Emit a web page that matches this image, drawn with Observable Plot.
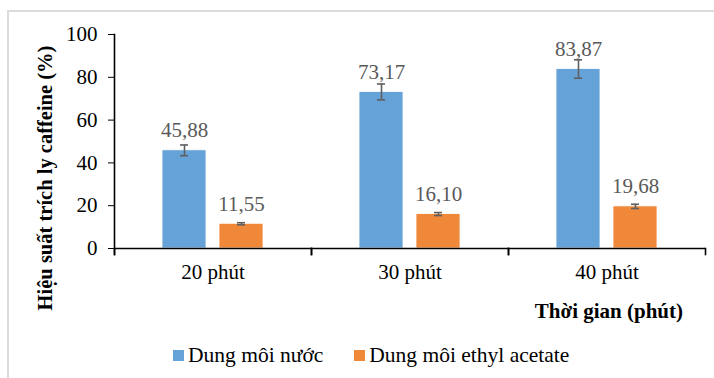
<!DOCTYPE html>
<html>
<head>
<meta charset="utf-8">
<script src="https://cdn.jsdelivr.net/npm/d3@7"></script>
<script src="https://cdn.jsdelivr.net/npm/@observablehq/plot@0.6"></script>
<style>
  html, body { margin: 0; padding: 0; background: #fff; }
  #wrap { position: relative; width: 714px; height: 378px; overflow: hidden; font-family: "Liberation Serif", "Times New Roman", serif; }
  #border { position: absolute; left: 7px; top: 10px; width: 760px; height: 420px; border: 2px solid #dcdcdc; box-sizing: border-box; }
  #chart { position: absolute; left: 0; top: 0; }
  .ytitle { position: absolute; left: 45px; top: 178px; transform: translate(-50%, -50%) rotate(-90deg); white-space: nowrap; font-weight: bold; font-size: 20.5px; color: #000; }
  .xtitle { position: absolute; right: 31px; top: 299px; white-space: nowrap; font-weight: bold; font-size: 21px; color: #000; }
  .legend { position: absolute; top: 343px; left: 173px; display: flex; align-items: center; font-size: 21.5px; color: #000; white-space: nowrap; }
  .legend .item { display: flex; align-items: center; margin-right: 31px; }
  .legend .sw { width: 11px; height: 11px; margin-right: 4px; }
</style>
</head>
<body>
<div id="wrap">
  <div id="border"></div>
  <div id="chart"></div>
  <div class="ytitle" id="ytitle"></div>
  <div class="xtitle" id="xtitle"></div>
  <div class="legend" id="legend"></div>
</div>
<script>
const times = ["20 phút", "30 phút", "40 phút"];
const series = ["Dung môi nước", "Dung môi ethyl acetate"];
const waterValues = [45.88, 73.17, 83.87];
const waterErrors = [2.5, 3.7, 4.3];
const ethylValues = [11.55, 16.10, 19.68];
const ethylErrors = [0.5, 0.7, 1.0];
const yTicks = [0, 20, 40, 60, 80, 100];
const colors = ["#65a2d8", "#f0883a"];
const yTitle = "Hiệu suất trích ly caffeine (%)";
const xTitle = "Thời gian (phút)";

const data = [];
times.forEach((t, i) => {
  data.push({time: t, series: series[0], value: waterValues[i], err: waterErrors[i]});
  data.push({time: t, series: series[1], value: ethylValues[i], err: ethylErrors[i]});
});
const fmt = v => v.toFixed(2).replace(".", ",");

const chart = Plot.plot({
  width: 714,
  height: 335,
  marginLeft: 113,
  marginRight: 9,
  marginTop: 34,
  marginBottom: 87,
  style: {fontFamily: "'Liberation Serif', 'Times New Roman', serif", fontSize: "21px", color: "#000", background: "transparent"},
  fx: {domain: times, padding: 0, label: null, axis: "bottom", tickSize: 0, tickPadding: 16},
  x: {domain: series, paddingInner: 0.228, paddingOuter: 0.842, axis: null},
  y: {domain: [0, 100], ticks: yTicks, tickSize: 6, tickPadding: 11, label: null},
  color: {domain: series, range: colors},
  marks: [
    Plot.barY(data, {fx: "time", x: "series", y: "value", fill: "series", stroke: "#ffffff", strokeWidth: 0.8}),
    Plot.ruleX(data, {fx: "time", x: "series", y1: d => d.value - d.err, y2: d => d.value + d.err, stroke: "#5f5f5f", strokeWidth: 1.6}),
    Plot.tickY(data, {fx: "time", x: "series", y: d => d.value - d.err, stroke: "#5f5f5f", strokeWidth: 1.6, insetLeft: 18, insetRight: 18}),
    Plot.tickY(data, {fx: "time", x: "series", y: d => d.value + d.err, stroke: "#5f5f5f", strokeWidth: 1.6, insetLeft: 18, insetRight: 18}),
    Plot.text(data, {fx: "time", x: "series", y: "value", text: d => fmt(d.value), dy: -20, fill: "#595959", fontSize: 21}),
    Plot.ruleY([0], {stroke: "#000", strokeWidth: 1.6}),
    Plot.frame({anchor: "left", insetTop: 214, insetBottom: -6, stroke: "#000", strokeWidth: 1.6}),
    Plot.frame({anchor: "right", insetTop: 214, insetBottom: -6, stroke: "#000", strokeWidth: 1.6}),
    Plot.frame({anchor: "left", facet: "super", insetBottom: -6, stroke: "#000", strokeWidth: 1.6})
  ]
});
document.getElementById("chart").appendChild(chart);
document.getElementById("ytitle").textContent = yTitle;
document.getElementById("xtitle").textContent = xTitle;
const legend = document.getElementById("legend");
series.forEach((s, i) => {
  const item = document.createElement("div");
  item.className = "item";
  const sw = document.createElement("div");
  sw.className = "sw";
  sw.style.background = colors[i];
  const label = document.createElement("span");
  label.textContent = s;
  item.appendChild(sw);
  item.appendChild(label);
  legend.appendChild(item);
});
</script>
</body>
</html>
